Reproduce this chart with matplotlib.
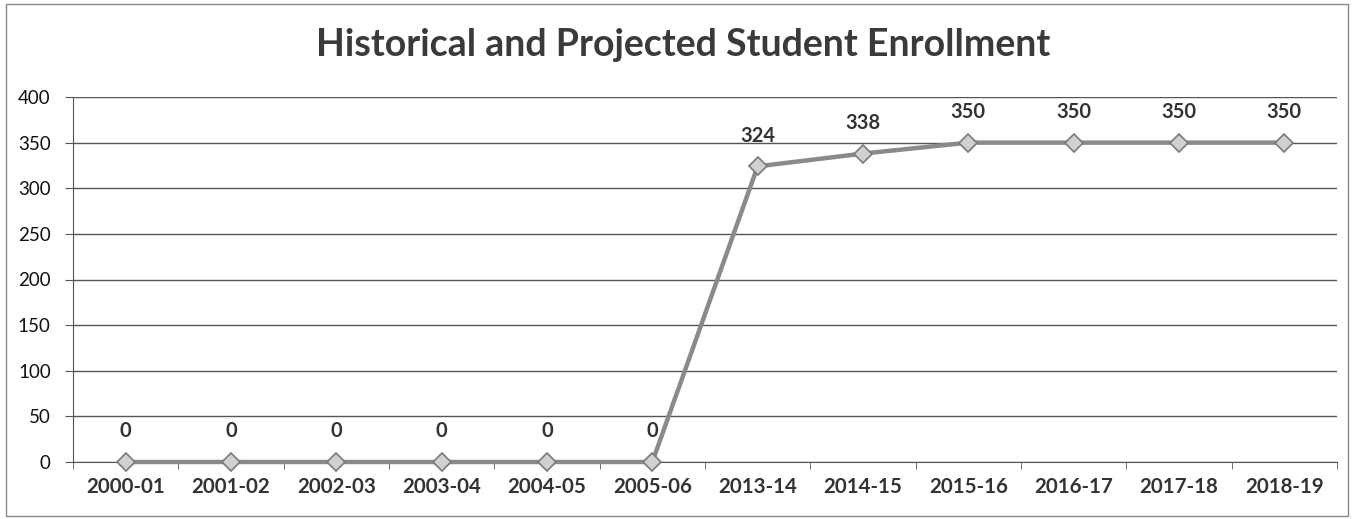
import matplotlib
matplotlib.use("Agg")
import matplotlib.pyplot as plt
from matplotlib.patches import Rectangle

years = ["2000-01", "2001-02", "2002-03", "2003-04", "2004-05", "2005-06",
         "2013-14", "2014-15", "2015-16", "2016-17", "2017-18", "2018-19"]
enrollment = [0, 0, 0, 0, 0, 0, 324, 338, 350, 350, 350, 350]
y_ticks = [0, 50, 100, 150, 200, 250, 300, 350, 400]

plt.rcParams["font.family"] = ["Lato", "DejaVu Sans"]

fig = plt.figure(figsize=(13.56, 5.19), dpi=100)
ax = fig.add_axes([73 / 1356, 1 - 462 / 519, (1337 - 73) / 1356, (462 - 97) / 519])

x = list(range(len(years)))
ax.plot(x, enrollment, color="#8a8a8a", lw=3.2, marker="D", ms=9,
        markerfacecolor="#d0d0d0", markeredgecolor="#7a7a7a", mew=1.2,
        zorder=3, clip_on=False)

for xi, v in zip(x, enrollment):
    ax.annotate(str(v), (xi, v), xytext=(0, 22), textcoords="offset points",
                ha="center", va="center", fontsize=14.5, fontweight="bold",
                color="#333333")

ax.set_xlim(-0.5, len(years) - 0.5)
ax.set_ylim(0, 400)
ax.set_yticks(y_ticks)
ax.set_yticklabels([str(t) for t in y_ticks], fontsize=13.5, color="#111111")
ax.set_xticks(x)
ax.set_xticklabels(years, fontsize=14.8, fontweight="bold", color="#333333")
ax.set_xticks([i - 0.5 for i in range(len(years) + 1)], minor=True)
ax.tick_params(axis="x", which="major", length=0, pad=11)
ax.tick_params(axis="x", which="minor", length=5, color="#555555", direction="out")
ax.tick_params(axis="y", length=6, color="#555555", pad=10)

ax.grid(axis="y", color="#555555", lw=1)
ax.set_axisbelow(True)
for s in ["top", "right"]:
    ax.spines[s].set_visible(False)
ax.spines["left"].set_color("#555555")
ax.spines["bottom"].set_color("#555555")

fig.text(683 / 1356, 1 - 45 / 519, "Historical and Projected Student Enrollment",
         ha="center", va="center", fontsize=27, fontweight="bold", color="#3a3a3a")

fig.patches.append(Rectangle((6 / 1356, 3 / 519), 1342 / 1356, 512 / 519,
                             transform=fig.transFigure, fill=False,
                             edgecolor="#888888", lw=1))

fig.savefig("out.png", dpi=100)
